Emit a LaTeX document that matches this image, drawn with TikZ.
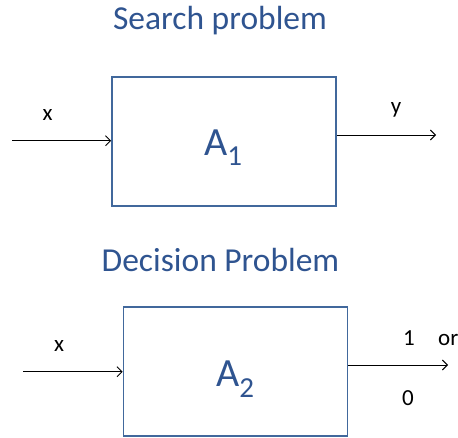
\documentclass[tikz,border=0pt]{standalone}
\usepackage{fontspec}
\setmainfont{Carlito}
\usetikzlibrary{arrows.meta}
\definecolor{titleblue}{HTML}{2F5490}
\definecolor{boxblue}{HTML}{41689C}
\tikzset{
  title/.style={anchor=base, text=titleblue, font=\fontsize{33.5}{33.5}\selectfont, inner sep=0pt},
  algbox/.style={draw=boxblue, line width=1.8pt, minimum width=224pt, minimum height=129pt, inner sep=0pt},
  algname/.style={anchor=base west, text=titleblue, font=\fontsize{40}{40}\selectfont, inner sep=0pt},
  lbl/.style={anchor=base, font=\fontsize{23}{23}\selectfont, inner sep=0pt},
  arr/.style={line width=0.9pt, -{Straight Barb[length=5pt,width=10pt]}}
}
\newcommand{\algsub}[1]{\raisebox{-10pt}{\fontsize{29}{29}\selectfont #1}}
\begin{document}
\begin{tikzpicture}[x=1pt,y=-1pt]
  \useasboundingbox (0,0) rectangle (458,438);

  % search problem
  \node[title] (t1) at (220,30) {Search problem};
  \node[algbox] (b1) at (224,141.5) {};
  \node[algname] (a1) at (204,156) {A\algsub{1}};
  \coordinate (in1) at (12,140.7);
  \coordinate (out1) at (436,135);
  \draw[arr] (in1) -- (b1.west |- in1);
  \draw[arr] (b1.east |- out1) -- (out1);
  \node[lbl] (x1) at (47.5,121) {x};
  \node[lbl] (y1) at (396,114) {y};

  % decision problem
  \node[title] (t2) at (220.5,272) {Decision Problem};
  \node[algbox] (b2) at (235.5,371.5) {};
  \node[algname] (a2) at (216,387) {A\algsub{2}};
  \coordinate (in2) at (23,371.7);
  \coordinate (out2) at (448,365);
  \draw[arr] (in2) -- (b2.west |- in2);
  \draw[arr] (b2.east |- out2) -- (out2);
  \node[lbl] (x2) at (59,352) {x};
  \node[lbl] (one) at (409,346) {1};
  \node[lbl, anchor=base west] (or) at (438,346) {or};
  \node[lbl] (zero) at (408,405) {0};
\end{tikzpicture}
\end{document}
